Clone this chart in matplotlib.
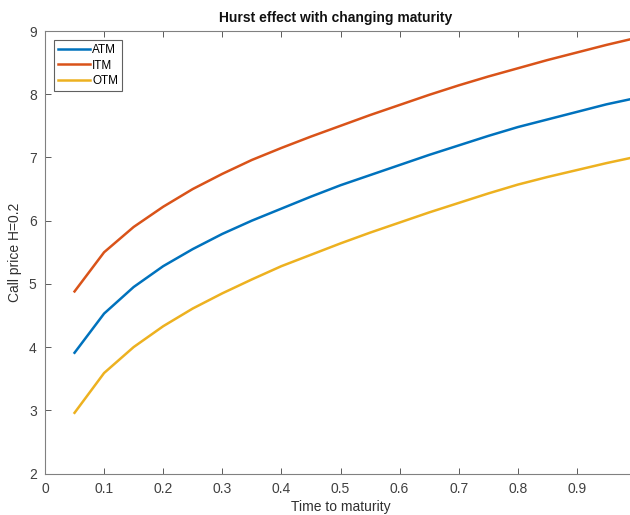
import matplotlib
matplotlib.use("Agg")
import matplotlib.pyplot as plt

# === Data ===
maturity = [0.05, 0.10, 0.15, 0.20, 0.25, 0.30, 0.35, 0.40, 0.45, 0.50,
            0.55, 0.60, 0.65, 0.70, 0.75, 0.80, 0.85, 0.90, 0.95, 1.00]
atm = [3.91, 4.53, 4.95, 5.28, 5.55, 5.79, 6.00, 6.19, 6.38, 6.56,
       6.72, 6.88, 7.04, 7.19, 7.34, 7.48, 7.60, 7.72, 7.84, 7.94]
itm = [4.88, 5.50, 5.90, 6.22, 6.50, 6.74, 6.96, 7.15, 7.33, 7.50,
       7.67, 7.83, 7.99, 8.14, 8.28, 8.41, 8.54, 8.66, 8.78, 8.89]
otm = [2.96, 3.59, 4.00, 4.33, 4.61, 4.85, 5.07, 5.28, 5.46, 5.64,
       5.81, 5.97, 6.13, 6.28, 6.43, 6.57, 6.69, 6.80, 6.91, 7.01]
xticks = [0, 0.1, 0.2, 0.3, 0.4, 0.5, 0.6, 0.7, 0.8, 0.9]
yticks = [2, 3, 4, 5, 6, 7, 8, 9]

plt.rcParams['font.family'] = ['Liberation Sans', 'DejaVu Sans']

fig = plt.figure(figsize=(6.3, 5.15), dpi=100)
# axes run slightly past the right edge, like the cropped original
ax = fig.add_axes([45 / 630, 41.5 / 515, 591 / 630, 442.5 / 515])

ax.plot(maturity, atm, color="#0072BD", lw=1.8, label="ATM")
ax.plot(maturity, itm, color="#D95319", lw=1.8, label="ITM")
ax.plot(maturity, otm, color="#EDB120", lw=1.8, label="OTM")

ax.set_xlim(0, 1)
ax.set_ylim(2, 9)
ax.set_xticks(xticks)
ax.set_xticklabels([f"{t:g}" for t in xticks])
ax.set_yticks(yticks)

grey = "#404040"
for s in ax.spines.values():
    s.set_color("#808080")
    s.set_linewidth(0.8)
ax.tick_params(direction="in", top=True, right=True, length=4, width=0.6,
               color=grey, labelcolor=grey, labelsize=10)
ax.tick_params(axis="x", pad=6)
ax.tick_params(axis="y", pad=6)

ax.set_xlabel("Time to maturity", fontsize=10, color="#303030", labelpad=3)
ax.set_ylabel("Call price H=0.2", fontsize=10, color="#303030", labelpad=5)
fig.text(0.532, 1 - 18 / 515, "Hurst effect with changing maturity",
         ha="center", va="center", fontsize=10, fontweight="bold", color="#111111")

leg = ax.legend(loc="upper left", fontsize=8.5, handlelength=2.7, handletextpad=0.2,
                borderpad=0.35, labelspacing=0.3, borderaxespad=0.75, fancybox=False,
                framealpha=1)
leg.get_frame().set_edgecolor("#606060")
leg.get_frame().set_linewidth(0.8)

fig.savefig("out.png", dpi=100)
